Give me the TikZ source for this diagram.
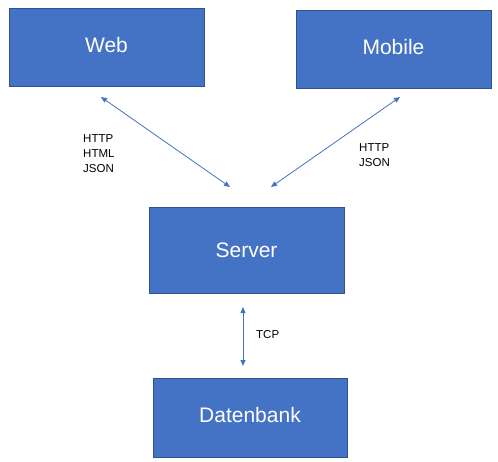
\documentclass[tikz,border=0pt]{standalone}
\usepackage{fontspec}
\setmainfont{Liberation Sans}
\usetikzlibrary{arrows.meta}
\definecolor{boxblue}{HTML}{4472C4}
\definecolor{boxedge}{HTML}{2F528F}
\begin{document}
\begin{tikzpicture}[x=1pt,y=-1pt,
  box/.style={draw=boxedge, line width=0.8pt, fill=boxblue, text=white, font=\fontsize{21}{25}\selectfont, inner sep=0pt},
  link/.style={draw=boxblue, line width=0.8pt, {Triangle[length=6pt,width=5pt]}-{Triangle[length=6pt,width=5pt]}},
  lbl/.style={font=\fontsize{11.5}{15}\selectfont, align=left, inner sep=0pt, anchor=west, text=black}]
\useasboundingbox (0,0) rectangle (498,461);
\node[box, minimum width=195pt, minimum height=78pt] (web) at (106.5,47) {\raisebox{4pt}{Web}};
\node[box, minimum width=195pt, minimum height=78pt] (mobile) at (393.5,49) {\raisebox{5pt}{Mobile}};
\node[box, minimum width=195pt, minimum height=86pt] (server) at (246.5,250) {\raisebox{-1pt}{Server}};
\node[box, minimum width=194pt, minimum height=79pt] (db) at (250,417.5) {\raisebox{5pt}{Datenbank}};
\coordinate (w1) at (101,97);
\coordinate (w2) at (230,187);
\coordinate (m1) at (400,97);
\coordinate (m2) at (271,187);
\coordinate (t1) at (243,307);
\coordinate (t2) at (243,366);
\draw[link] (w1) -- (w2);
\draw[link] (m1) -- (m2);
\draw[link] (t1) -- (t2);
\node[lbl] (lw) at (83,153.5) {HTTP\\HTML\\JSON};
\node[lbl] (lm) at (359,155.5) {HTTP\\JSON};
\node[lbl] (lt) at (256,335) {TCP};
\end{tikzpicture}
\end{document}
